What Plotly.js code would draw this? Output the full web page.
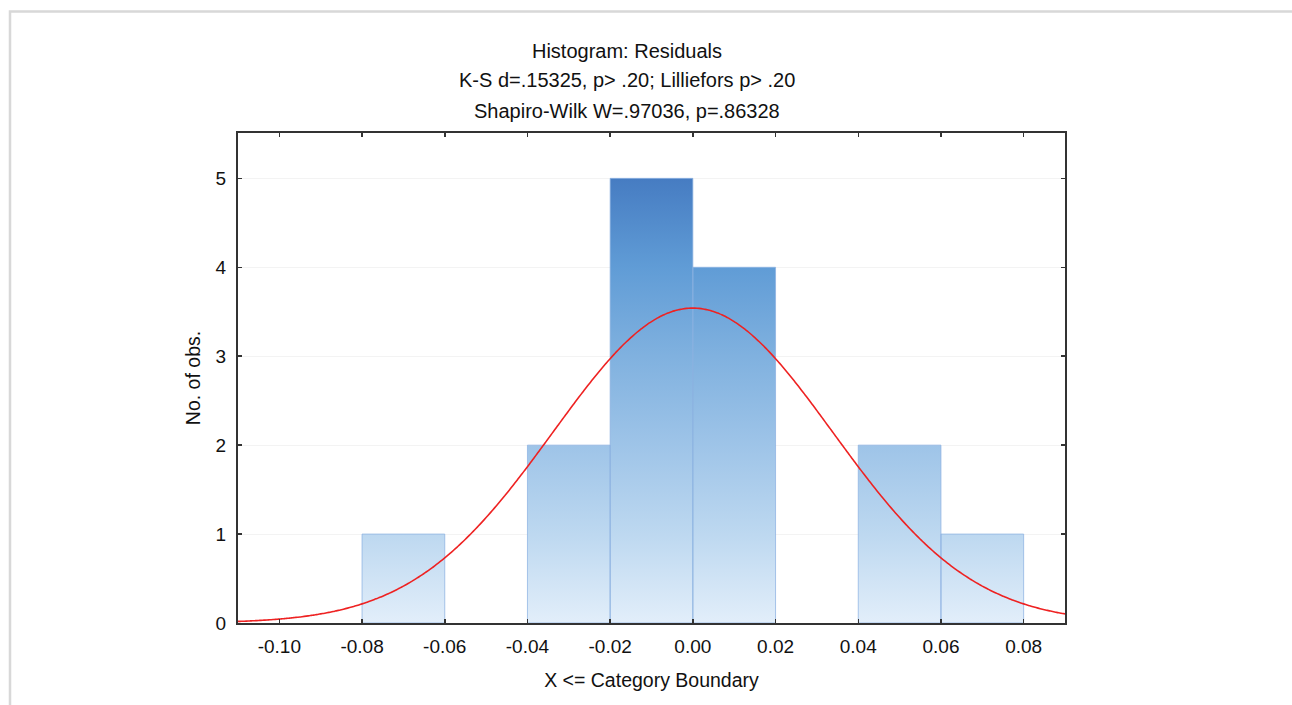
<!DOCTYPE html>
<html>
<head>
<meta charset="utf-8">
<script src="https://cdn.plot.ly/plotly-3.0.1.min.js"></script>
<style>
  html, body { margin: 0; padding: 0; background: #ffffff; }
  #chart { width: 1292px; height: 705px; }
</style>
</head>
<body>
<div id="chart"></div>
<script>
// ---- Data ----
const binLeft  = [-0.08, -0.06, -0.04, -0.02, 0.00, 0.02, 0.04, 0.06];
const binRight = [-0.06, -0.04, -0.02, 0.00, 0.02, 0.04, 0.06, 0.08];
const counts   = [1, 0, 2, 5, 4, 0, 2, 1];
const xTickVals = [-0.10, -0.08, -0.06, -0.04, -0.02, 0.00, 0.02, 0.04, 0.06, 0.08];
const xTickText = ['-0.10', '-0.08', '-0.06', '-0.04', '-0.02', '0.00', '0.02', '0.04', '0.06', '0.08'];
const yTickVals = [0, 1, 2, 3, 4, 5];
// fitted normal curve parameters
const fitMean = 0.0;
const fitSD = 0.0338;
const nObs = 15;
const binWidth = 0.02;
const titleLines = [
  'Histogram: Residuals',
  'K-S d=.15325, p> .20; Lilliefors p> .20',
  'Shapiro-Wilk W=.97036, p=.86328'
];

// ---- Build bar polygons from bins ----
const bx = [], by = [];
for (let i = 0; i < counts.length; i++) {
  if (counts[i] <= 0) continue;
  bx.push(binLeft[i], binLeft[i], binRight[i], binRight[i], binLeft[i], null);
  by.push(0, counts[i], counts[i], 0, 0, null);
}
const barTrace = {
  type: 'scatter', mode: 'lines', x: bx, y: by,
  fill: 'toself',
  fillgradient: {
    type: 'vertical',
    start: 0, stop: 5,
    colorscale: [
      [0.0, '#e2eefa'],
      [0.2, '#bdd8f0'],
      [0.4, '#9ec4e8'],
      [0.6, '#80b1df'],
      [0.8, '#609cd6'],
      [1.0, '#467cc2']
    ]
  },
  line: { color: 'rgba(140,178,226,0.75)', width: 1 },
  hoverinfo: 'skip', showlegend: false
};

// ---- Fitted normal curve ----
const cx = [], cy = [];
const xMin = -0.11, xMax = 0.09;
const steps = 400;
for (let k = 0; k <= steps; k++) {
  const x = xMin + (xMax - xMin) * k / steps;
  const z = (x - fitMean) / fitSD;
  cx.push(x);
  cy.push(nObs * binWidth / (fitSD * Math.sqrt(2 * Math.PI)) * Math.exp(-0.5 * z * z));
}
const curveTrace = {
  type: 'scatter', mode: 'lines', x: cx, y: cy,
  line: { color: '#ee2222', width: 1.6, shape: 'spline' },
  hoverinfo: 'skip', showlegend: false
};

const fontFam = 'Liberation Sans, Arial, sans-serif';
const W = 1292, H = 705;
const L = 238, R = 1065, T = 133, B = 623;
const pw = R - L, ph = B - T;
const titleCX = 627;

const layout = {
  width: W, height: H,
  margin: { l: L, r: W - R, t: T, b: H - B, pad: 0 },
  paper_bgcolor: '#ffffff', plot_bgcolor: '#ffffff',
  font: { family: fontFam, color: '#111111', size: 19 },
  title: {
    text: titleLines[0],
    x: titleCX / W, xanchor: 'center',
    y: 1 - 51 / H, yanchor: 'middle', yref: 'container',
    font: { family: fontFam, size: 20, color: '#111111' }
  },
  xaxis: {
    range: [-0.11, 0.09],
    tickmode: 'array', tickvals: xTickVals, ticktext: xTickText,
    ticks: 'inside', ticklen: 4, tickwidth: 1.5, tickcolor: '#333333',
    showline: true, linecolor: '#333333', linewidth: 2, mirror: 'ticks',
    showgrid: false, zeroline: false,
    tickfont: { family: fontFam, size: 19, color: '#111111' },
    ticklabelstandoff: 5,
    title: { text: 'X <= Category Boundary', font: { family: fontFam, size: 19.5, color: '#111111' }, standoff: 18 }
  },
  yaxis: {
    range: [0, 5.51],
    tickmode: 'array', tickvals: yTickVals,
    ticks: 'inside', ticklen: 4, tickwidth: 1.5, tickcolor: '#333333',
    showline: true, linecolor: '#333333', linewidth: 2, mirror: 'ticks',
    showgrid: true, gridcolor: '#f3f3f3', gridwidth: 1, zeroline: false,
    tickfont: { family: fontFam, size: 19, color: '#111111' },
    ticklabelstandoff: 6,
    title: { text: 'No. of obs.', font: { family: fontFam, size: 19.5, color: '#111111' }, standoff: 10 }
  },
  annotations: [
    { text: titleLines[1], xref: 'paper', yref: 'paper', x: (titleCX - L) / pw, y: (B - 80.5) / ph,
      xanchor: 'center', yanchor: 'middle', showarrow: false,
      font: { family: fontFam, size: 20, color: '#111111' } },
    { text: titleLines[2], xref: 'paper', yref: 'paper', x: (titleCX - L) / pw, y: (B - 110.5) / ph,
      xanchor: 'center', yanchor: 'middle', showarrow: false,
      font: { family: fontFam, size: 20, color: '#111111' } }
  ],
  shapes: [
    { type: 'rect', xref: 'paper', yref: 'paper', layer: 'below',
      x0: (10 - L) / pw, x1: (1310 - L) / pw,
      y0: (B - 730) / ph, y1: (B - 11.5) / ph,
      line: { color: '#d8d8d8', width: 2.5 }, fillcolor: 'rgba(0,0,0,0)' }
  ]
};

Plotly.newPlot('chart', [barTrace, curveTrace], layout, { staticPlot: true, displayModeBar: false });
</script>
</body>
</html>
